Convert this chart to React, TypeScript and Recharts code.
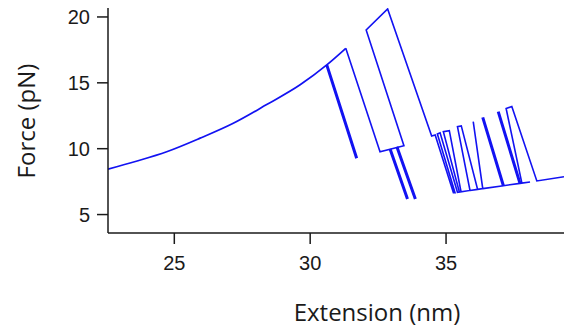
import { LineChart, Line, XAxis, YAxis, Label } from "recharts"

type Pt = [number, number]

// extension (nm), force (pN)
const stretchCurve: Pt[] = [
  [22.56, 8.45], [23.6, 9.05], [24.72, 9.77], [25.95, 10.8], [27.17, 11.93],
  [28.4, 13.35], [29.63, 14.85], [30.61, 16.36], [31.31, 17.62],
]

const firstRips: Pt[] = [
  [31.31, 17.62], [32.57, 9.77], [33.45, 10.23], [32.06, 19.01], [32.85, 20.61], [34.47, 10.96],
]

const hoppingBundle: Pt[] = [
  [34.6, 11.04], [35.27, 6.66], [35.33, 6.66], [34.68, 11.12], [34.78, 11.21],
  [35.42, 6.69], [35.49, 6.71], [34.9, 11.29], [35.12, 11.37], [35.55, 6.73],
  [35.88, 6.83], [35.42, 11.67], [35.56, 11.73], [36.16, 6.91], [35.88, 6.83],
  [36.16, 6.91], [36.35, 6.97], [36.0, 12.05],
]

const lastHops: Pt[] = [
  [36.35, 6.97], [37.11, 7.19], [37.72, 7.37], [38.09, 7.47], [37.79, 7.39],
  [37.21, 13.05], [37.42, 13.2], [38.34, 7.55], [39.34, 7.87],
]

// heavier retraced drops
const thickDrops: Pt[][] = [
  [[30.61, 16.36], [31.71, 9.27]],
  [[32.94, 9.98], [33.58, 6.18]],
  [[33.19, 10.15], [33.87, 6.18]],
  [[36.35, 12.38], [37.11, 7.19]],
  [[36.92, 12.81], [37.72, 7.37]],
]

const xTicks = [25, 30, 35]
const yTicks = [5, 10, 15, 20]

const joinSegments = (segs: Pt[][]) => {
  const out: { x: number; y: number | null }[] = []
  segs.forEach((s, i) => {
    if (i > 0) out.push({ x: s[0][0], y: null })
    s.forEach(([x, y]) => out.push({ x, y }))
  })
  return out
}

const curveData = joinSegments([stretchCurve])
const thinData = joinSegments([[...firstRips, ...hoppingBundle], lastHops])
const thickData = joinSegments(thickDrops)

const blue = "#1212f2"
const tickFont = { fontFamily: "'Liberation Sans', Arial, sans-serif", fontSize: 20, fill: "#1a1a1a" }
const titleFont = "'Open Sans', sans-serif"

export default function App() {
  return (
    <div style={{ position: "absolute", left: 0, top: 0, background: "#fff" }}>
      <LineChart width={564} height={333} margin={{ top: 8, right: 0, bottom: 0, left: 0 }}>
        <XAxis
          type="number"
          dataKey="x"
          domain={[22.56, 39.34]}
          ticks={xTicks}
          allowDataOverflow
          height={100}
          tickSize={11}
          tickMargin={12}
          stroke="#1a1a1a"
          strokeWidth={1.5}
          tick={tickFont}
        >
          <Label
            content={({ viewBox }: any) => (
              <text
                x={viewBox.x + 269}
                y={viewBox.y + 88}
                textAnchor="middle"
                fontFamily={titleFont}
                fontSize={24}
                fill="#1a1a1a"
              >
                Extension (nm)
              </text>
            )}
          />
        </XAxis>
        <YAxis
          type="number"
          domain={[3.6, 20.68]}
          ticks={yTicks}
          allowDataOverflow
          width={108}
          tickSize={11}
          tickMargin={7}
          stroke="#1a1a1a"
          strokeWidth={1.5}
          tick={tickFont}
        >
          <Label
            content={() => (
              <text
                x={35}
                y={121}
                transform="rotate(-90, 35, 121)"
                textAnchor="middle"
                fontFamily={titleFont}
                fontSize={24}
                fill="#1a1a1a"
              >
                Force (pN)
              </text>
            )}
          />
        </YAxis>
        <Line
          data={curveData}
          dataKey="y"
          type="monotone"
          stroke={blue}
          strokeWidth={1.7}
          dot={false}
          activeDot={false}
          isAnimationActive={false}
        />
        <Line
          data={thinData}
          dataKey="y"
          stroke={blue}
          strokeWidth={1.6}
          dot={false}
          activeDot={false}
          isAnimationActive={false}
        />
        <Line
          data={thickData}
          dataKey="y"
          stroke={blue}
          strokeWidth={3}
          dot={false}
          activeDot={false}
          isAnimationActive={false}
        />
      </LineChart>
    </div>
  )
}
